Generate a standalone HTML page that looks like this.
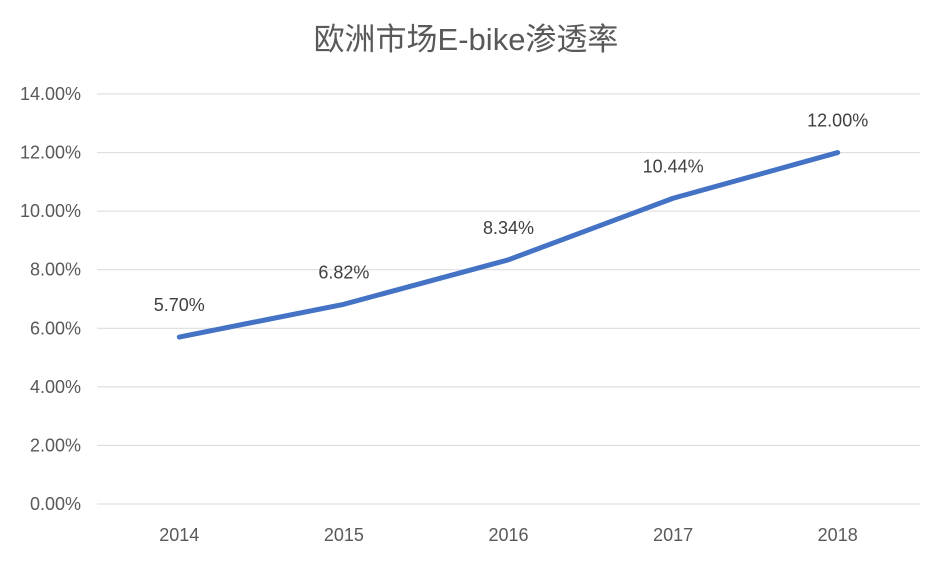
<!DOCTYPE html>
<html><head><meta charset="utf-8"><style>
body{margin:0;background:#fff;}
svg text{font-family:"Liberation Sans","Noto Sans CJK SC",sans-serif;}
</style></head><body>
<svg id="chart" width="932" height="558" xmlns="http://www.w3.org/2000/svg">
<rect width="932" height="558" fill="#fff"/>
<text x="466" y="50" text-anchor="middle" font-size="31" fill="#595959">欧洲市场E-bike渗透率</text>
<g id="grid"></g>
<g id="yaxis"></g>
<g id="xaxis"></g>
<g id="series"></g>
</svg>
<script>
const categories = ["2014","2015","2016","2017","2018"];
const values = [5.70, 6.82, 8.34, 10.44, 12.00];
const valueLabels = ["5.70%","6.82%","8.34%","10.44%","12.00%"];
const yTicks = [0,2,4,6,8,10,12,14];
const yTickLabels = ["0.00%","2.00%","4.00%","6.00%","8.00%","10.00%","12.00%","14.00%"];

const NS="http://www.w3.org/2000/svg";
const plotLeft=97,plotRight=920,plotTop=94,plotBottom=504,yMax=14;
const yScale=v=>plotBottom-(v/yMax)*(plotBottom-plotTop);
const step=(plotRight-plotLeft)/categories.length;
const xScale=i=>plotLeft+step*(i+0.5);
function mk(tag,attrs,parent,text){const e=document.createElementNS(NS,tag);for(const k in attrs)e.setAttribute(k,attrs[k]);if(text!==undefined)e.textContent=text;parent.appendChild(e);return e;}
const grid=document.getElementById('grid'),ya=document.getElementById('yaxis'),xa=document.getElementById('xaxis'),se=document.getElementById('series');
yTicks.forEach((t,i)=>{
  const l=mk('line',{x1:plotLeft,x2:plotRight,y1:yScale(t),y2:yScale(t),stroke:'#d9d9d9','stroke-width':1},grid);
  
  
  const tx=mk('text',{x:81,y:yScale(t)+6,'text-anchor':'end','font-size':18,fill:'#595959'},ya,yTickLabels[i]);
  
  
});
categories.forEach((c,i)=>{
  const tx=mk('text',{x:xScale(i),y:541,'text-anchor':'middle','font-size':18,fill:'#595959'},xa,c);
  
  
});
const pts=values.map((v,i)=>xScale(i)+','+yScale(v)).join(' ');
const pl=mk('polyline',{points:pts,fill:'none',stroke:'#4472c4','stroke-width':5,'stroke-linejoin':'round','stroke-linecap':'round'},se);


values.forEach((v,i)=>{
  const tx=mk('text',{x:xScale(i),y:yScale(v)-26,'text-anchor':'middle','font-size':18,fill:'#404040'},se,valueLabels[i]);
  
  
});
</script>
</body></html>
